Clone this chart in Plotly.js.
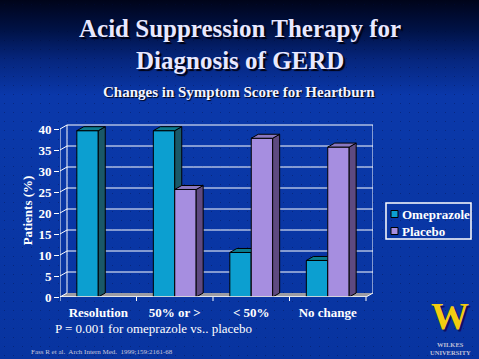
<!DOCTYPE html>
<html>
<head>
<meta charset="utf-8">
<script src="https://cdn.plot.ly/plotly-3.0.1.min.js"></script>
<style>
  html, body { margin:0; padding:0; width:479px; height:359px; overflow:hidden; }
  body {
    background-color:#0835a0;
    background-image:
      radial-gradient(circle, rgba(0,10,60,0.35) 0.7px, transparent 1px),
      linear-gradient(180deg, #00041a 0px, #001246 30px, #06267e 60px, #0a38aa 95px, #0a38a8 140px, #0834a0 359px);
    background-size: 9px 9px, 100% 100%;
  }
  #chart { width:479px; height:359px; }
</style>
</head>
<body>
<div id="chart"></div>
<script>
// ---- data ----
const categories = ['Resolution', '50% or >', '< 50%', 'No change'];
const omeprazole = [39.6, 39.6, 10.6, 8.7];
const placebo    = [0, 25.6, 37.8, 35.7];
const yTicks     = [0, 5, 10, 15, 20, 25, 30, 35, 40];
const seriesNames = ['Omeprazole', 'Placebo'];

// ---- styling / geometry ----
const FONT = 'Liberation Serif, Times New Roman, serif';
const DX = 0.0915, DY = 0.95;          // 3D depth (x units, y units)
const BW = 0.28;                        // bar width
const XMIN = -0.5, XMAX = 3.5;
const YTOP = 41.19;
const colors = {
  omeFront: '#0c9fd0', omeTop: '#0a7c8e', omeSide: '#1a5868',
  plaFront: '#a68ee0', plaTop: '#8a78c0', plaSide: '#5e4a80'
};
const M = {l:60, r:106, t:124, b:62};
const PW = 479 - M.l - M.r, PH = 359 - M.t - M.b;
const px = x => (x - M.l) / PW;          // pixel -> paper
const py = y => (359 - M.b - y) / PH;

const xs = categories.map((c, i) => i);
const esc = s => s.replace(/</g, '&lt;').replace(/>/g, '&gt;');

function faces(vals, offset) {
  const top = {x: [], y: []}, side = {x: [], y: []};
  vals.forEach((v, i) => {
    if (!(v > 0)) return;
    const x0 = xs[i] + offset, x1 = x0 + BW;
    top.x.push(x0, x1, x1 + DX, x0 + DX, x0, null);
    top.y.push(v, v, v + DY, v + DY, v, null);
    side.x.push(x1, x1 + DX, x1 + DX, x1, x1, null);
    side.y.push(0, DY, v + DY, v, 0, null);
  });
  return {top, side};
}

function series(vals, offset, front, topC, sideC, name, xa, ya) {
  const f = faces(vals, offset);
  return [
    {type: 'bar', name: name, x: xs, y: vals, width: BW, offset: offset,
     xaxis: xa, yaxis: ya, showlegend: false, hoverinfo: 'skip',
     marker: {color: front, line: {color: '#000', width: vals.map(v => v > 0 ? 1 : 0)}}},
    {type: 'scatter', mode: 'lines', x: f.side.x, y: f.side.y, fill: 'toself',
     fillcolor: sideC, line: {color: '#000', width: 1}, xaxis: xa, yaxis: ya,
     showlegend: false, hoverinfo: 'skip'},
    {type: 'scatter', mode: 'lines', x: f.top.x, y: f.top.y, fill: 'toself',
     fillcolor: topC, line: {color: '#000', width: 1}, xaxis: xa, yaxis: ya,
     showlegend: false, hoverinfo: 'skip'}
  ];
}

const data = [
  ...series(omeprazole, -BW, colors.omeFront, colors.omeTop, colors.omeSide, seriesNames[0], 'x', 'y'),
  ...series(placebo, 0, colors.plaFront, colors.plaTop, colors.plaSide, seriesNames[1], 'x2', 'y2')
];

// ---- frame shapes (back wall, floor, axis) ----
const white = {color: '#ffffff', width: 1};
const shapes = [];
// floor
shapes.push({type: 'path', layer: 'below', xref: 'x', yref: 'y',
  path: `M ${XMIN} 0 L ${XMAX} 0 L ${XMAX + DX} ${DY} L ${XMIN + DX} ${DY} Z`,
  fillcolor: '#9c9ca4', line: {color: '#9c9ca4', width: 0}});
// back-wall grid lines + diagonals from front axis
yTicks.forEach(t => {
  if (t > 0) shapes.push({type: 'line', layer: 'below', xref: 'x', yref: 'y',
    x0: XMIN + DX, x1: XMAX + DX, y0: t + DY, y1: t + DY, line: white});
  shapes.push({type: 'line', layer: 'below', xref: 'x', yref: 'y',
    x0: XMIN, x1: XMIN + DX, y0: t, y1: t + DY, line: white});
});
const yMax = yTicks[yTicks.length - 1];
// back wall left / right edges
shapes.push({type: 'line', layer: 'below', xref: 'x', yref: 'y',
  x0: XMIN + DX, x1: XMIN + DX, y0: DY, y1: yMax + DY, line: white});
shapes.push({type: 'line', layer: 'below', xref: 'x', yref: 'y',
  x0: XMAX + DX, x1: XMAX + DX, y0: DY, y1: yMax + DY, line: white});
// front y axis line
shapes.push({type: 'line', layer: 'above', xref: 'x', yref: 'y',
  x0: XMIN, x1: XMIN, y0: 0, y1: yMax, line: white});
// front floor edge + right diagonal
shapes.push({type: 'line', layer: 'above', xref: 'x', yref: 'y',
  x0: XMIN, x1: XMAX, y0: 0, y1: 0, line: {color: '#ffffff', width: 1.5}});
shapes.push({type: 'line', layer: 'below', xref: 'x', yref: 'y',
  x0: XMAX, x1: XMAX + DX, y0: 0, y1: DY, line: white});
// category boundary ticks
for (let k = 0; k <= categories.length; k++) {
  shapes.push({type: 'line', layer: 'above', xref: 'x', yref: 'paper',
    x0: XMIN + k, x1: XMIN + k, y0: 0, y1: -4 / PH, line: white});
}
// legend box + swatches
shapes.push({type: 'rect', xref: 'paper', yref: 'paper',
  x0: px(386), x1: px(471), y0: py(239), y1: py(203),
  line: {color: '#ffffff', width: 1.5}, fillcolor: 'rgba(0,0,0,0)'});
const legendFronts = [colors.omeFront, colors.plaFront];
const legendY = [214, 231];
seriesNames.forEach((n, i) => {
  shapes.push({type: 'rect', xref: 'paper', yref: 'paper',
    x0: px(391), x1: px(398), y0: py(legendY[i] + 3.5), y1: py(legendY[i] - 3.5),
    fillcolor: legendFronts[i], line: {color: '#000', width: 1}});
});

// ---- annotations ----
const titleFont = {family: FONT, size: 25, color: '#e8e8ff', weight: 'bold',
  shadow: '2px 2px 1px #000010'};
const ann = [
  {text: 'Acid Suppression Therapy for', x: px(240), y: py(28), font: titleFont},
  {text: 'Diagnosis of GERD', x: px(240), y: py(60), font: titleFont},
  {text: 'Changes in Symptom Score for Heartburn', x: px(239), y: py(92),
   font: {family: FONT, size: 15, color: '#f4f4ff', weight: 'bold', shadow: '1px 1px 1px #000010'}},
  {text: 'P = 0.001 for omeprazole vs.. placebo', x: px(53), y: py(328), xanchor: 'left',
   font: {family: FONT, size: 13, color: '#ffffff'}},
  {text: 'Fass R et al.  Arch Intern Med.  1999;159:2161-68', x: px(29), y: py(352), xanchor: 'left',
   font: {family: FONT, size: 7, color: '#c8c8dc'}},
  {text: 'W', x: px(450), y: py(316),
   font: {family: FONT, size: 38, color: '#f2cc10', weight: 'bold', shadow: '2px 2px 0px #101060'}},
  {text: 'WILKES', x: px(450), y: py(344),
   font: {family: FONT, size: 6.5, color: '#c0c0d8', weight: 'bold'}},
  {text: 'UNIVERSITY', x: px(450), y: py(352),
   font: {family: FONT, size: 6.5, color: '#c0c0d8', weight: 'bold'}}
];
seriesNames.forEach((n, i) => {
  ann.push({text: n, x: px(400), y: py(legendY[i]), xanchor: 'left',
    font: {family: FONT, size: 13, color: '#ffffff', weight: 'bold'}});
});
ann.forEach(a => { a.xref = 'paper'; a.yref = 'paper'; a.showarrow = false;
  if (!a.xanchor) a.xanchor = 'center'; a.yanchor = 'middle'; });

const layout = {
  width: 479, height: 359,
  margin: {l: M.l, r: M.r, t: M.t, b: M.b, pad: 0},
  paper_bgcolor: 'rgba(0,0,0,0)', plot_bgcolor: 'rgba(0,0,0,0)',
  showlegend: false, bargap: 0,
  xaxis: {range: [XMIN, XMAX + DX], tickvals: xs, ticktext: categories.map(esc),
    showgrid: false, zeroline: false, showline: false, ticks: '', fixedrange: true,
    ticklabelstandoff: 6,
    tickfont: {family: FONT, size: 13, color: '#ffffff', weight: 'bold'}},
  yaxis: {range: [0, YTOP], tickvals: yTicks, ticks: 'outside', ticklen: 5,
    tickcolor: '#ffffff', tickwidth: 1, showgrid: false, zeroline: false, showline: false,
    fixedrange: true,
    tickfont: {family: FONT, size: 13, color: '#ffffff', weight: 'bold'},
    title: {text: 'Patients (%)', standoff: 2,
      font: {family: FONT, size: 13, color: '#ffffff', weight: 'bold'}}},
  xaxis2: {range: [XMIN, XMAX + DX], overlaying: 'x', visible: false, fixedrange: true},
  yaxis2: {range: [0, YTOP], overlaying: 'y', visible: false, fixedrange: true},
  shapes: shapes,
  annotations: ann
};

Plotly.newPlot('chart', data, layout, {staticPlot: true, displayModeBar: false});
</script>
</body>
</html>
